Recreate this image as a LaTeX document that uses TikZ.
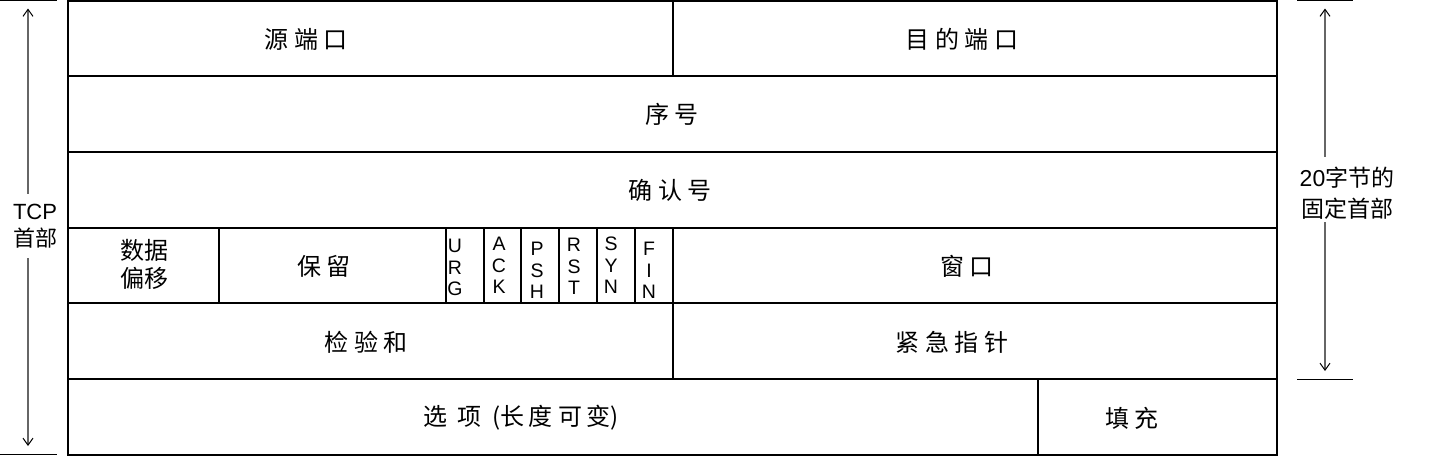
\documentclass[tikz,border=0pt]{standalone}
\usepackage{fontspec}
\setmainfont{Noto Sans CJK SC}
\newfontfamily\lat{Liberation Sans}
\usetikzlibrary{arrows.meta,calc}

\begin{document}
\begin{tikzpicture}[x=1pt, y=-1pt,
  grid/.style={line width=1.5pt},
  tick/.style={line width=0.9pt},
  dimarr/.style={-{Straight Barb[length=7pt,width=10pt,line width=1pt,color=black]},
                 line width=1.5pt, draw=black!60, shorten >=8pt},
  lbl/.style={font=\fontsize{24}{28}\selectfont, inner sep=0pt},
  flag/.style={font=\lat\fontsize{19.5}{21.5}\selectfont, align=center, inner sep=0pt},
  side/.style={align=center, inner sep=0pt}]
  \useasboundingbox (0,0) rectangle (1453,456);
  % header grid
  \draw[grid] (68,0.8) rectangle (1277,455);
  \foreach \y in {76,152,303,379}
    \draw[grid] (68,\y) -- (1277,\y);
  \draw[grid, line width=2.2pt] (68,228) -- (1277,228);
  \draw[grid] (673,0.8) -- (673,76);
  \draw[grid] (219,228) -- (219,303);
  \foreach \x in {446,484,521,559,597,635}
    \draw[grid] (\x,228) -- (\x,303);
  \draw[grid] (673,228) -- (673,379);
  \draw[grid] (1038,379) -- (1038,455);
  % field names
  \node[lbl] (srcport) at (306,39) {源 端 口};
  \node[lbl] (dstport) at (962,39) {目 的 端 口};
  \node[lbl] (seq) at (672,114) {序 号};
  \node[lbl] (ack) at (670,190) {确 认 号};
  \node[lbl, align=center, font=\fontsize{24}{28}\selectfont] (offset) at (144,264) {数据\\偏移};
  \node[lbl] (resv) at (324,266) {保 留};
  \node[lbl] (window) at (967,266) {窗 口};
  \node[lbl] (chksum) at (366,342) {检 验 和};
  \node[lbl] (urgptr) at (952,342) {紧 急 指 针};
  \node[lbl] (options) at (521,418)
    {选\hspace{10pt}项\hspace{11pt}(长\hspace{4pt}度\hspace{6pt}可\hspace{4pt}变)};
  \node[lbl] (padding) at (1132,418) {填 充};
  % flag bits
  \foreach \x/\y/\t [count=\i] in {455/239/{U\\R\\G}, 499/237/{A\\C\\K}, 537/242/{P\\S\\H},
                                   574/238/{R\\S\\T}, 611/237/{S\\Y\\N}, 649/242/{F\\I\\N}}
    \node[flag, anchor=north] (flag\i) at (\x,\y) {\t};
  % left dimension: whole header
  \coordinate (ltop) at (28,0.5);
  \coordinate (lbot) at (28,454);
  \draw[tick] (0,0.5) -- (57,0.5);
  \draw[tick] (0,454) -- (57,454);
  \node[side, font=\fontsize{22}{27}\selectfont] (tcphdr) at (35,226) {{\lat TCP}\\首部};
  \draw[dimarr, shorten <=10pt] (tcphdr.north -| ltop) -- (ltop);
  \draw[dimarr, shorten <=10pt] (tcphdr.south -| lbot) -- (lbot);
  % right dimension: fixed 20 bytes
  \coordinate (rtop) at (1325,0.5);
  \coordinate (rbot) at (1325,379);
  \draw[tick] (1297,0.5) -- (1353,0.5);
  \draw[tick] (1297,379) -- (1353,379);
  \node[side, font=\fontsize{23}{31}\selectfont] (fixhdr) at (1347,193) {{\lat 20}字节的\\固定首部};
  \draw[dimarr, shorten <=10pt] (fixhdr.north -| rtop) -- (rtop);
  \draw[dimarr, shorten <=3pt] (fixhdr.south -| rbot) -- (rbot);
\end{tikzpicture}
\end{document}
